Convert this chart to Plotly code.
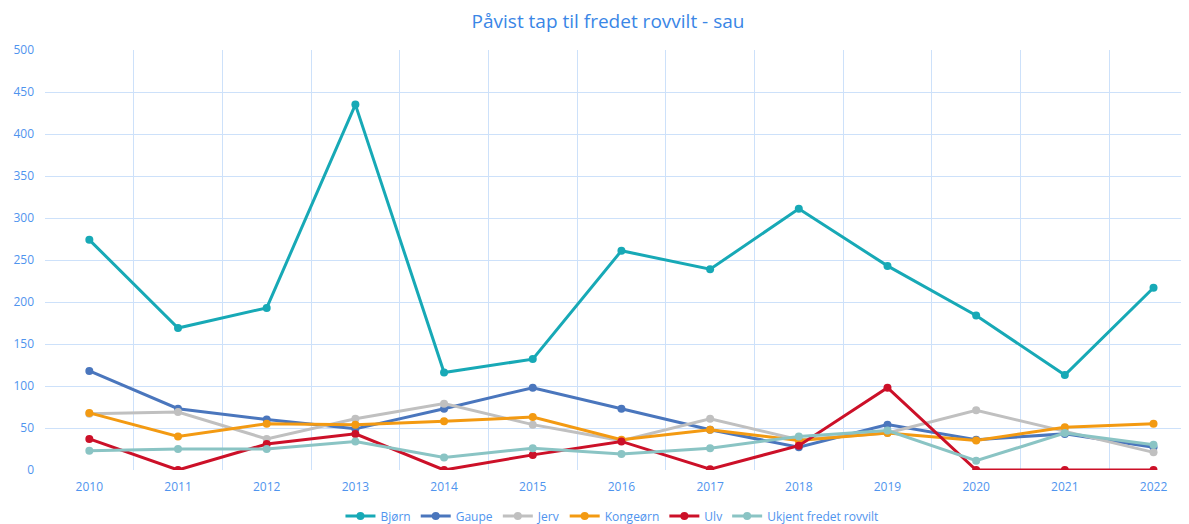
import plotly.graph_objects as go

years = [str(y) for y in range(2010, 2023)]
series_names = ["Bjørn", "Gaupe", "Jerv", "Kongeørn", "Ulv", "Ukjent fredet rovvilt"]
bjorn = [274, 169, 193, 435, 116, 132, 261, 239, 311, 243, 184, 113, 217]
gaupe = [118, 73, 60, 49, 73, 98, 73, 48, 27, 54, 36, 43, 27]
jerv = [67, 69, 37, 61, 79, 54, 35, 61, 36, 44, 71, 46, 21]
kongeorn = [68, 40, 55, 54, 58, 63, 36, 48, 35, 44, 35, 51, 55]
ulv = [37, 0, 31, 43, 0, 18, 34, 1, 29, 98, 0, 0, 0]
ukjent = [23, 25, 25, 34, 15, 26, 19, 26, 40, 47, 11, 44, 30]
colors = ["#17a9b6", "#4a76bd", "#c0c0c0", "#f39a12", "#cc1028", "#8ac4c4"]
y_ticks = list(range(0, 501, 50))

fig = go.Figure()
for name, vals, col in zip(series_names, [bjorn, gaupe, jerv, kongeorn, ulv, ukjent], colors):
    fig.add_trace(go.Scatter(
        x=years, y=vals, name=name, mode="lines+markers",
        line=dict(color=col, width=3), marker=dict(color=col, size=8),
    ))

# page body has an 8px margin, so the figure is sized to fill the rest of the window
W, H = 1181, 516
tick_col = "#4f94ee"
grid_col = "#cde1fa"
fig.update_layout(
    width=W, height=H,
    margin=dict(l=37, r=0, t=42, b=54, autoexpand=False),
    paper_bgcolor="white", plot_bgcolor="white",
    font=dict(family="Open Sans", color=tick_col, size=12),
    title=dict(text="Påvist tap til fredet rovvilt - sau", x=600/W, xanchor="center",
               y=1 - 13/H, yanchor="middle",
               font=dict(family="Open Sans", size=19, color="#3a86e6")),
    showlegend=True,
    legend=dict(orientation="h", x=0.4956, xanchor="center", y=-46/420, yanchor="middle",
                font=dict(size=12, color=tick_col), tracegroupgap=0),
    xaxis=dict(type="category", range=[-0.5, 12.4], tickson="boundaries",
               showgrid=True, gridcolor=grid_col, gridwidth=1, ticks="",
               automargin=False, ticklabelstandoff=8,
               tickfont=dict(size=12, color=tick_col), showline=False, zeroline=False),
    yaxis=dict(range=[0, 500], tickvals=y_ticks, showgrid=True, gridcolor=grid_col,
               gridwidth=1, zeroline=False, showline=False, ticks="", automargin=False,
               ticklabelstandoff=10, tickfont=dict(size=12, color=tick_col)),
)

fig.write_html("out.html")
